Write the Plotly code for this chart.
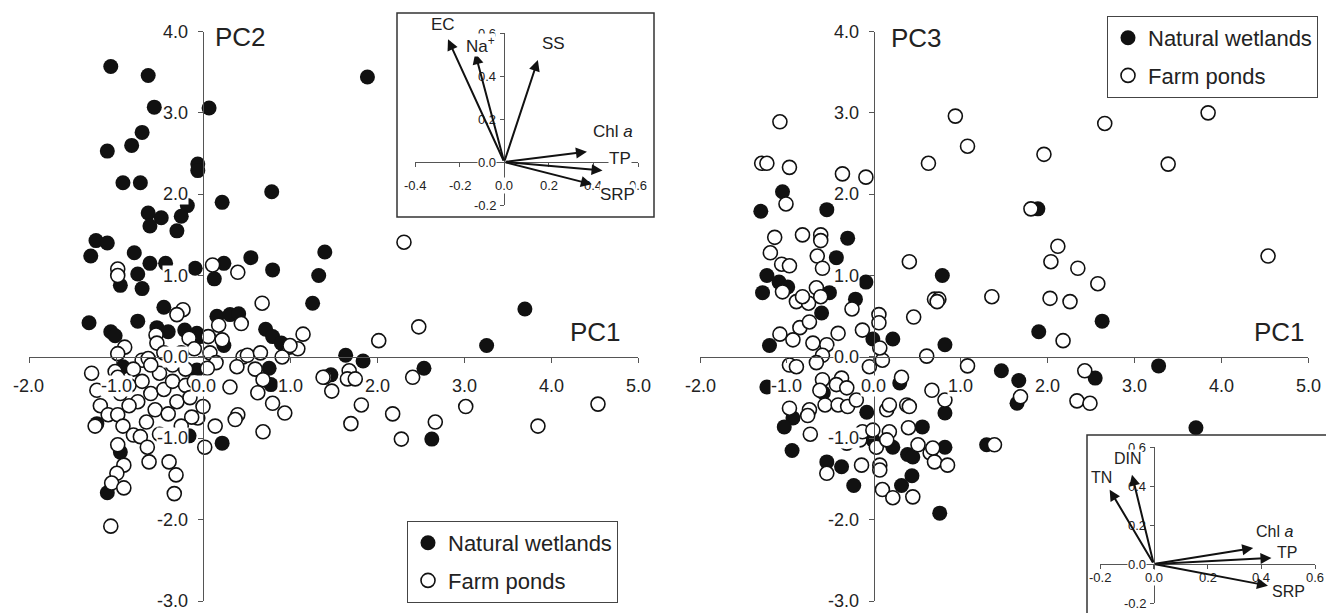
import plotly.graph_objects as go

W, H = 1326, 613
FONT = "Liberation Sans, Arial, sans-serif"

# ---------------- data ----------------
# Left panel: PC1 (x) vs PC2 (y)
pc12_wet_x = [-1.06, -0.63, -0.56, 0.07, -0.70, -0.82, -1.10, -0.06, -0.06, -0.92, -0.72, 0.79, 0.22, -0.18,
              -0.63, -0.48, -0.25, -0.61, -0.30, -1.23, -1.10, -1.29, -0.79, -0.61, -0.43, -0.09, 0.24, 0.55,
              0.80, 1.40, -0.75, -0.95, -0.70, 0.13, -0.45, -1.31, -0.75, -1.06, -1.01, -0.53, -0.40, -0.21,
              -0.07, -0.03, 0.16, 0.31, 0.41, 0.24, 0.72, 0.80, 0.90, 1.26, 1.89, 1.33, 3.70, 3.26, 1.64, 1.84,
              1.47, 2.54, 2.63, -0.92, -0.07, 0.76, 0.78, -1.22, -0.16, 0.22, -0.95, -1.10]
pc12_wet_y = [3.57, 3.46, 3.07, 3.06, 2.76, 2.60, 2.53, 2.37, 2.29, 2.14, 2.14, 2.03, 1.90, 1.86,
              1.77, 1.71, 1.73, 1.61, 1.55, 1.43, 1.40, 1.24, 1.28, 1.15, 1.15, 1.09, 1.15, 1.22,
              1.07, 1.29, 1.02, 0.88, 0.84, 0.96, 0.61, 0.42, 0.44, 0.31, 0.26, 0.36, 0.31, 0.33,
              0.29, 0.25, 0.50, 0.52, 0.53, 0.14, 0.34, 0.25, 0.17, 0.66, 3.44, 1.00, 0.59, 0.14, 0.02, -0.05,
              -0.22, -0.14, -1.01, -0.12, -0.16, -0.14, -0.34, -0.82, -0.97, -1.06, -1.17, -1.67]
pc12_pond_x = [-0.98, -0.98, 0.11, 0.40, -0.23, -0.30, 0.68, -0.54, -0.53, -0.16, -0.90, -0.98, -0.70, -0.63,
               0.06, 0.18, 0.22, 0.44, 0.08, 0.15, 0.05, 0.46, 0.39, 0.51, 0.66, 0.60, 0.69, 0.63, 0.80, 0.94,
               0.69, 0.99, 1.09, 1.15, 0.91, 1.40, 0.31, 0.40, 0.37, 0.14, 0.02, -0.06, -0.13, 0.00, -1.28,
               -1.22, -1.18, -1.24, -1.09, -0.98, -0.92, -0.80, -0.98, -0.91, -0.99, -1.05, -0.91, -1.06, -0.62,
               -0.39, -0.31, -0.33, -0.72, -0.64, -1.01, -0.98, -0.85, -0.70, -0.60, -0.50, -0.45, -0.35, -0.30,
               -0.20, -0.75, -0.55, -0.40, -0.65, -0.50, -0.25, -0.15, -0.85, -0.95, -0.60, -0.35, -0.20, -0.10,
               -0.80, -0.45, -0.25, -0.10, 2.48, 2.02, 1.00, 1.38, 1.68, 1.66, 1.75, 1.48, 2.41, 1.82, 1.70,
               2.18, 2.28, 2.67, 3.02, 3.85, 4.54, 2.31]
pc12_pond_y = [1.08, 1.00, 1.13, 1.04, 0.58, 0.52, 0.66, 0.27, 0.17, 0.23, 0.12, 0.04, -0.04, -0.02,
               0.25, 0.39, 0.21, 0.41, 0.05, -0.07, -0.14, 0.00, -0.12, 0.02, 0.05, -0.15, -0.28, -0.44, -0.57,
               -0.69, -0.92, 0.12, 0.10, 0.28, 0.00, -0.25, -0.37, -0.71, -0.77, -0.85, -1.11, -0.75, -0.74,
               -0.61, -0.20, -0.41, -0.60, -0.85, -0.71, -0.71, -0.85, -0.96, -1.08, -1.33, -1.43, -1.55, -1.61,
               -2.08, -1.29, -1.29, -1.45, -1.68, -0.98, -1.11, -0.18, -0.25, -0.35, -0.30, -0.45, -0.20, -0.40,
               -0.30, -0.55, -0.35, -0.55, -0.65, -0.70, -0.80, -0.95, -0.85, -0.50, -0.60, -0.45, -0.10, -0.10,
               -0.15, -0.30, -0.15, 0.05, 0.05, 0.10, 0.37, 0.20, 0.14, -0.25, -0.17, -0.27, -0.27, -0.42, -0.25,
               -0.59, -0.82, -0.70, -1.01, -0.80, -0.61, -0.85, -0.58, 1.41]

# Right panel: PC1 (x) vs PC3 (y)
pc13_wet_x = [-1.05, -1.30, -0.54, -0.30, -0.43, -1.23, -1.09, -0.99, -1.28, -0.09, 0.79, -0.21, -0.51, -0.60,
              0.22, -0.01, -1.20, 0.82, -1.23, -0.58, -0.08, 0.30, -0.93, -1.03, -0.94, -0.54, -0.37, -0.23,
              -0.01, 0.22, 0.56, 0.39, 0.45, 0.44, 0.32, 0.76, 0.82, 0.82, 2.63, 1.90, 1.47, 1.67, 2.55, 3.28,
              1.65, 3.71, 1.30, 1.89]
pc13_wet_y = [2.03, 1.79, 1.81, 1.46, 1.22, 1.00, 0.92, 0.86, 0.79, 0.92, 1.00, 0.71, 0.79, 0.54,
              0.22, 0.22, 0.14, 0.15, -0.37, -0.44, -0.68, -0.32, -0.75, -0.86, -1.15, -1.29, -1.35, -1.58,
              -1.02, -1.11, -0.86, -1.20, -1.23, -1.46, -1.58, -1.92, -1.11, -0.69, 0.44, 0.31, -0.17, -0.29,
              -0.26, -0.11, -0.57, -0.87, -1.08, 1.82]
pc13_pond_x = [-1.08, -1.29, -1.23, -0.97, -0.36, -0.09, -1.01, -1.14, -0.82, -0.61, -0.61, -1.19, -1.06, -0.97,
               -0.65, -0.59, 0.63, 0.41, 0.70, 0.75, 0.46, 0.06, 0.06, -0.25, -1.05, -0.89, -0.75, -0.82, -0.66,
               -0.61, -0.85, -1.08, -0.74, -0.13, -0.41, -0.93, -0.70, -0.54, -0.59, -0.97, -0.89, -0.66, -0.37,
               -0.43, -0.31, -0.59, -0.62, 0.10, 0.07, -0.05, 0.61, 0.67, 0.82, 0.32, 0.38, 0.41, 0.15, 0.18,
               -0.97, -0.74, -0.76, -0.56, -0.41, -0.30, -0.20, -0.73, -0.31, -0.16, -0.13, -0.01, 0.03, 0.18,
               0.15, -0.14, 0.07, 0.07, -0.54, 0.10, 0.22, 0.45, 0.51, 0.65, 0.70, 0.85, 1.08, 2.18, 2.43, 1.69,
               2.34, 2.49, 0.40, 0.68, 1.39, 0.73, 2.26, 2.03, 2.66, 3.85, 3.39, 4.54, 0.94, 1.08, 1.96, 1.81,
               2.12, 2.04, 2.35, 2.58, 1.36]
pc13_pond_y = [2.89, 2.38, 2.38, 2.33, 2.25, 2.21, 1.88, 1.47, 1.50, 1.50, 1.43, 1.28, 1.14, 1.12,
               1.24, 1.09, 2.38, 1.17, 0.71, 0.71, 0.49, 0.52, 0.42, 0.59, 0.80, 0.68, 0.66, 0.74, 0.85,
               0.74, 0.36, 0.28, 0.43, 0.33, 0.29, 0.21, 0.17, 0.15, 0.02, -0.10, -0.12, -0.07, -0.26,
               -0.34, -0.38, -0.28, -0.41, -0.04, 0.11, -0.12, 0.01, -0.41, -0.53, -0.25, -0.59, -0.61, -0.65, -0.59,
               -0.63, -0.65, -0.72, -0.59, -0.59, -0.61, -0.53, -0.95, -1.06, -1.02, -0.92, -0.90, -1.11, -0.92,
               -1.02, -1.33, -1.33, -1.39, -1.43, -1.63, -1.73, -1.72, -1.08, -1.18, -1.29, -1.33, -0.11, 0.20, -0.17, -0.49,
               -0.54, -0.57, -0.87, -1.12, -1.08, 0.68, 0.68, 0.72, 2.87, 3.00, 2.37, 1.24, 2.96, 2.59, 2.49, 1.82,
               1.36, 1.17, 1.09, 0.90, 0.74]

x_ticks = [-2.0, -1.0, 0.0, 1.0, 2.0, 3.0, 4.0, 5.0]
y_ticks = [-3.0, -2.0, -1.0, 0.0, 1.0, 2.0, 3.0, 4.0]

# Loading insets
ins1_xticks = [-0.4, -0.2, 0.0, 0.2, 0.4, 0.6]
ins1_yticks = [-0.2, 0.0, 0.2, 0.4, 0.6]
ins1_names = ["EC", "Na<sup>+</sup>", "SS", "Chl <i>a</i>", "TP", "SRP"]
ins1_x = [-0.252, -0.130, 0.151, 0.371, 0.441, 0.393]
ins1_y = [0.571, 0.506, 0.474, 0.048, -0.040, -0.104]
ins1_lab_x = [-0.274, -0.108, 0.220, 0.489, 0.520, 0.507]
ins1_lab_y = [0.600, 0.544, 0.553, 0.140, 0.014, -0.153]
ins1_lab_dy = [-9, 0, 0, 0, 0, 0]   # pixel lift of labels sitting above the axis range

ins2_xticks = [-0.2, 0.0, 0.2, 0.4, 0.6]
ins2_yticks = [-0.2, 0.0, 0.2, 0.4, 0.6]
ins2_names = ["TN", "DIN", "Chl <i>a</i>", "TP", "SRP"]
ins2_x = [-0.164, -0.081, 0.370, 0.438, 0.425]
ins2_y = [0.381, 0.458, 0.082, 0.031, -0.111]
ins2_lab_x = [-0.193, -0.096, 0.451, 0.496, 0.500]
ins2_lab_y = [0.443, 0.540, 0.166, 0.058, -0.142]
ins2_lab_dy = [0, 0, 0, 0, 0]

# ---------------- figure ----------------
def fx(p):
    return p / W


def fy(p):
    return 1 - p / H


AX = "#555555"
TXT = "#222222"
fig = go.Figure()

wet_marker = dict(symbol="circle", size=15, color="#111111", line=dict(width=0))
pond_marker = dict(symbol="circle", size=14, color="white", line=dict(width=1.6, color="#111111"))

fig.add_trace(go.Scatter(x=pc12_wet_x, y=pc12_wet_y, mode="markers", marker=wet_marker,
                         name="Natural wetlands", xaxis="x", yaxis="y", legend="legend",
                         legendgroup="a", cliponaxis=False))
fig.add_trace(go.Scatter(x=pc12_pond_x, y=pc12_pond_y, mode="markers", marker=pond_marker,
                         name="Farm ponds", xaxis="x", yaxis="y", legend="legend",
                         legendgroup="b", cliponaxis=False))
fig.add_trace(go.Scatter(x=pc13_wet_x, y=pc13_wet_y, mode="markers", marker=wet_marker,
                         name="Natural wetlands", xaxis="x2", yaxis="y2", legend="legend2",
                         legendgroup="c", cliponaxis=False))
fig.add_trace(go.Scatter(x=pc13_pond_x, y=pc13_pond_y, mode="markers", marker=pond_marker,
                         name="Farm ponds", xaxis="x2", yaxis="y2", legend="legend2",
                         legendgroup="d", cliponaxis=False))
# empty traces to create inset subplots
fig.add_trace(go.Scatter(x=[], y=[], xaxis="x3", yaxis="y3", showlegend=False))
fig.add_trace(go.Scatter(x=[], y=[], xaxis="x4", yaxis="y4", showlegend=False))


def main_axis(domain, rng, pos, ticks):
    return dict(domain=domain, range=rng, anchor="free", position=pos, showline=True,
                linecolor=AX, linewidth=1.3, ticks="outside", ticklen=5, tickwidth=1.3,
                tickcolor=AX, tickvals=ticks, showticklabels=False, showgrid=False,
                zeroline=False, fixedrange=True)


def inset_axis(domain, rng, pos, ticks):
    return dict(domain=domain, range=rng, anchor="free", position=pos, showline=True,
                linecolor=AX, linewidth=1.1, ticks="outside", ticklen=4, tickwidth=1.1,
                tickcolor=AX, tickvals=ticks, showticklabels=False, showgrid=False,
                zeroline=False, fixedrange=True)


ann = []
# main tick labels
for xa, ya, in [("x", "y"), ("x2", "y2")]:
    for v in x_ticks:
        ann.append(dict(x=v, y=0, xref=xa, yref=ya, text=f"{v:.1f}", showarrow=False,
                        yshift=-29, xanchor="center", yanchor="middle", bgcolor="white",
                        borderpad=0, font=dict(size=18, color=TXT)))
    for v in y_ticks:
        ann.append(dict(x=0, y=v, xref=xa, yref=ya, text=f"{v:.1f}", showarrow=False,
                        xshift=-14, xanchor="right", yanchor="middle", bgcolor="white",
                        borderpad=0, font=dict(size=18, color=TXT)))

# axis names
ann += [
    dict(x=0.115, y=3.93, xref="x", yref="y", text="PC2", showarrow=False, xanchor="left",
         yanchor="middle", font=dict(size=26, color=TXT)),
    dict(x=4.83, y=0.31, xref="x", yref="y", text="PC1", showarrow=False, xanchor="right",
         yanchor="middle", font=dict(size=26, color=TXT)),
    dict(x=0.18, y=3.92, xref="x2", yref="y2", text="PC3", showarrow=False, xanchor="left",
         yanchor="middle", font=dict(size=26, color=TXT)),
    dict(x=4.99, y=0.31, xref="x2", yref="y2", text="PC1", showarrow=False, xanchor="right",
         yanchor="middle", font=dict(size=26, color=TXT)),
]

# inset tick labels
for xa, ya, xt, yt, xs in [("x3", "y3", ins1_xticks, ins1_yticks, -23),
                           ("x4", "y4", ins2_xticks, ins2_yticks, -13)]:
    for v in xt:
        ann.append(dict(x=v, y=0, xref=xa, yref=ya, text=f"{v:.1f}", showarrow=False,
                        yshift=xs, xanchor="center", yanchor="middle", bgcolor="white",
                        borderpad=0, font=dict(size=13, color=TXT)))
    for v in yt:
        ann.append(dict(x=0, y=v, xref=xa, yref=ya, text=f"{v:.1f}", showarrow=False,
                        xshift=-7, xanchor="right", yanchor="middle", bgcolor="white",
                        borderpad=0, font=dict(size=13, color=TXT)))

# loading arrows and labels
for xa, ya, nm, vx, vy, lx, ly, dy, fs in [
        ("x3", "y3", ins1_names, ins1_x, ins1_y, ins1_lab_x, ins1_lab_y, ins1_lab_dy, 17),
        ("x4", "y4", ins2_names, ins2_x, ins2_y, ins2_lab_x, ins2_lab_y, ins2_lab_dy, 16)]:
    for i in range(len(nm)):
        ann.append(dict(x=vx[i], y=vy[i], xref=xa, yref=ya, ax=0, ay=0, axref=xa, ayref=ya,
                        text="", showarrow=True, arrowhead=2, arrowsize=1.1, arrowwidth=2,
                        arrowcolor="#111"))
    for i in range(len(nm)):
        ann.append(dict(x=lx[i], y=ly[i], xref=xa, yref=ya, text=nm[i], showarrow=False,
                        yshift=-dy[i], xanchor="center", yanchor="middle", bgcolor="white",
                        borderpad=0, font=dict(size=fs, color=TXT)))

shapes = [
    dict(type="rect", xref="paper", yref="paper", x0=fx(397), x1=fx(654), y0=fy(217), y1=fy(13),
         line=dict(color="#333", width=1.5), fillcolor="rgba(0,0,0,0)", layer="above"),
    dict(type="rect", xref="paper", yref="paper", x0=fx(1087), x1=1.02, y0=-0.02, y1=fy(435),
         line=dict(color="#333", width=1.5), fillcolor="rgba(0,0,0,0)", layer="above"),
]

legend_common = dict(bgcolor="white", bordercolor="#444", borderwidth=1,
                     font=dict(size=22, color=TXT, family=FONT), tracegroupgap=6,
                     xanchor="left", yanchor="top", itemclick=False, itemdoubleclick=False)

fig.update_layout(
    width=W, height=H, margin=dict(l=0, r=0, t=0, b=0),
    paper_bgcolor="white", plot_bgcolor="white",
    font=dict(family=FONT, color=TXT),
    xaxis=main_axis([fx(29), fx(638)], [-2, 5], fy(357), x_ticks),
    yaxis=main_axis([fy(601), fy(31.5)], [-3, 4], fx(203), y_ticks),
    xaxis2=main_axis([fx(700), fx(1308)], [-2, 5], fy(357), x_ticks),
    yaxis2=main_axis([fy(601), fy(31.5)], [-3, 4], fx(874), y_ticks),
    xaxis3=inset_axis([fx(415), fx(638)], [-0.4, 0.6], fy(162), ins1_xticks),
    yaxis3=inset_axis([fy(205), fy(33)], [-0.2, 0.6], fx(504), ins1_yticks),
    xaxis4=inset_axis([fx(1100), fx(1315)], [-0.2, 0.6], fy(564), ins2_xticks),
    yaxis4=inset_axis([fy(603), fy(447)], [-0.2, 0.6], fx(1153.75), ins2_yticks),
    legend=dict(x=fx(407), y=fy(521), **legend_common),
    legend2=dict(x=fx(1107), y=fy(16), **legend_common),
    annotations=ann,
    shapes=shapes,
    showlegend=True,
)

fig.write_html("out.html")
